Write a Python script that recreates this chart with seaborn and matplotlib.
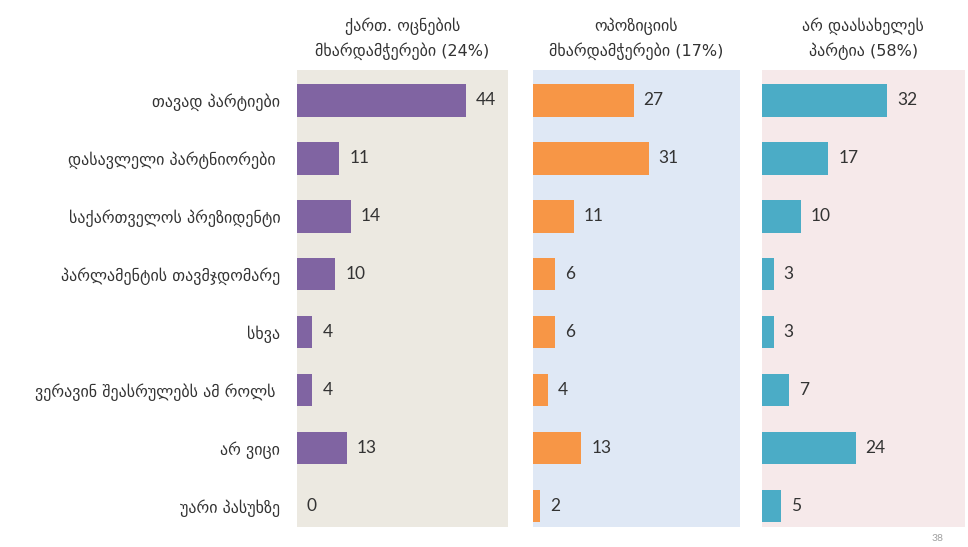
import matplotlib
matplotlib.use("Agg")
import matplotlib.pyplot as plt
import seaborn as sns
import pandas as pd

categories = [
    "თავად პარტიები",
    "დასავლელი პარტნიორები ",
    "საქართველოს პრეზიდენტი",
    "პარლამენტის თავმჯდომარე",
    "სხვა",
    "ვერავინ შეასრულებს ამ როლს ",
    "არ ვიცი",
    "უარი პასუხზე",
]
georgian_dream = [44, 11, 14, 10, 4, 4, 13, 0]
opposition = [27, 31, 11, 6, 6, 4, 13, 2]
undecided = [32, 17, 10, 3, 3, 7, 24, 5]

titles = [
    "ქართ. ოცნების\nმხარდამჭერები (24%)",
    "ოპოზიციის\nმხარდამჭერები (17%)",
    "არ დაასახელეს\nპარტია (58%)",
]
bar_colors = ["#8064a2", "#f79646", "#4bacc6"]
panel_colors = ["#ece9e1", "#dfe8f5", "#f6e9ea"]

sns.set_style("white")
plt.rcParams["font.family"] = ["DejaVu Sans"]

fig = plt.figure(figsize=(9.68, 5.47), dpi=100)

# panel positions in figure fraction (left, width) and x-limits
lefts = [0.3068, 0.5506, 0.787]
widths = [0.218, 0.2138, 0.2097]
xmaxes = [55, 55.5, 52]
series = [georgian_dream, opposition, undecided]

for i in range(3):
    ax = fig.add_axes([lefts[i], 0.0366, widths[i], 0.835])
    df = pd.DataFrame({"cat": categories, "val": series[i]})
    sns.barplot(data=df, x="val", y="cat", orient="h", color=bar_colors[i],
                saturation=1, width=0.56, linewidth=0, ax=ax)
    ax.set_facecolor(panel_colors[i])
    ax.set_xlim(0, xmaxes[i])
    ax.set_ylim(7.36, -0.52)
    for s in ax.spines.values():
        s.set_visible(False)
    ax.set_xticks([])
    ax.set_xlabel("")
    ax.set_ylabel("")
    ax.tick_params(axis="y", length=0, pad=12)
    if i == 0:
        for lbl in ax.get_yticklabels():
            lbl.set_fontsize(11.5)
            lbl.set_color("#333333")
    else:
        ax.set_yticklabels([])
    for j, v in enumerate(series[i]):
        ax.text(v + 2.6, j, str(v), va="center", ha="left", fontsize=12.5,
                color="#333333", family=["Lato", "DejaVu Sans"])
    ax.set_title(titles[i], fontsize=11.5, color="#333333", pad=10,
                 linespacing=1.6)

fig.text(0.975, 0.008, "38", fontsize=7.5, color="#a0a0a0", ha="right",
         va="bottom", family=["Lato", "DejaVu Sans"])

fig.savefig("out.png", dpi=100, facecolor="white")
